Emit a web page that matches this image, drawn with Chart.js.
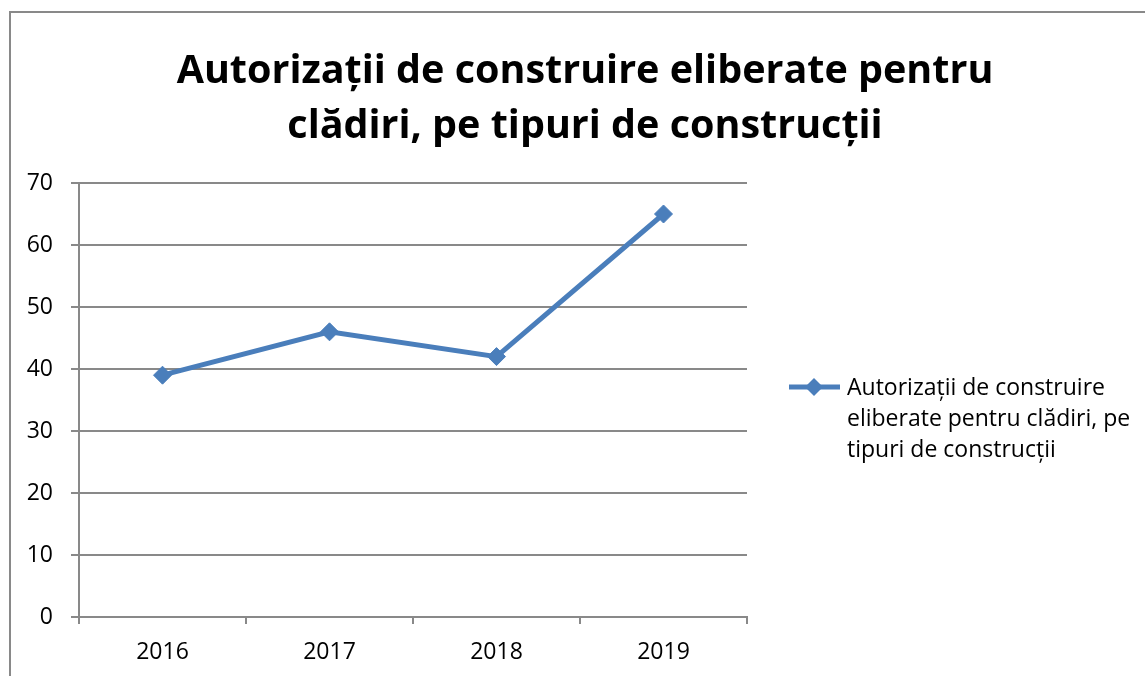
<!DOCTYPE html>
<html>
<head>
<meta charset="utf-8">
<script src="https://cdn.jsdelivr.net/npm/chart.js@4/dist/chart.umd.min.js"></script>
<style>
  html, body { margin: 0; padding: 0; background: #fff; overflow: hidden; }
  #frame { position: absolute; left: 9px; top: 11px; width: 1200px; height: 700px;
           border-left: 2px solid #898989; border-top: 2px solid #898989; }
  #mycanvas { position: absolute; left: 10px; top: 0; }
</style>
</head>
<body>
<div id="frame"></div>
<canvas id="mycanvas" width="1150" height="676"></canvas>
<script>
var years = ["2016", "2017", "2018", "2019"];
var autorizatii = [39, 46, 42, 65];
var titleLines = ["Autorizații de construire eliberate pentru", "clădiri, pe tipuri de construcții"];
var seriesLabel = "Autorizații de construire eliberate pentru clădiri, pe tipuri de construcții";

var lineColor = "#4a7ebb";
var gridColor = "#898989";
var fontFamily = "'Open Sans', 'Noto Sans', sans-serif";

// title should be centred on the whole canvas, not on the plot
var wideTitle = {
  id: "wideTitle",
  afterLayout: function(chart) {
    var t = chart.titleBlock;
    t.left = 0;
    t.right = chart.width;
    t.width = chart.width;
  }
};

// legend drawn by hand, so that the long label can wrap on three lines
var sideLegend = {
  id: "sideLegend",
  afterDraw: function(chart) {
    var ctx = chart.ctx;
    var ds = chart.data.datasets[0];
    var x0 = chart.chartArea.right + 42;
    var y0 = 387;
    var r = ds.pointRadius;
    ctx.save();
    ctx.strokeStyle = ds.borderColor;
    ctx.lineWidth = ds.borderWidth;
    ctx.beginPath();
    ctx.moveTo(x0, y0);
    ctx.lineTo(x0 + 51, y0);
    ctx.stroke();
    ctx.fillStyle = ds.pointBackgroundColor;
    ctx.beginPath();
    ctx.moveTo(x0 + 25 - r, y0);
    ctx.lineTo(x0 + 25, y0 - r);
    ctx.lineTo(x0 + 25 + r, y0);
    ctx.lineTo(x0 + 25, y0 + r);
    ctx.closePath();
    ctx.fill();

    ctx.font = "23px " + fontFamily;
    ctx.fillStyle = "#000";
    ctx.textBaseline = "middle";
    var words = ds.label.split(" ");
    var lines = [];
    var cur = "";
    for (var i in words) {
      var test = cur ? cur + " " + words[i] : words[i];
      if (ctx.measureText(test).width > 302 && cur) {
        lines.push(cur);
        cur = words[i];
      } else {
        cur = test;
      }
    }
    lines.push(cur);
    for (var j = 0; j < lines.length; j++) {
      ctx.fillText(lines[j], x0 + 58, y0 + 1 + j * 31);
    }
    ctx.restore();
  }
};

var ctx = document.getElementById("mycanvas");
var LineGraph = new Chart(ctx, {
  type: "line",
  data: {
    labels: years,
    datasets: [{
      label: seriesLabel,
      data: autorizatii,
      borderColor: lineColor,
      backgroundColor: lineColor,
      pointBackgroundColor: lineColor,
      pointBorderColor: lineColor,
      borderWidth: 5,
      pointStyle: "rectRot",
      pointRadius: 9,
      pointBorderWidth: 1,
      lineTension: 0,
      fill: false
    }]
  },
  options: {
    responsive: false,
    animation: false,
    devicePixelRatio: 1,
    layout: { padding: { left: 0, right: 413, top: 0, bottom: 0 } },
    plugins: {
      legend: { display: false },
      tooltip: { enabled: false },
      title: {
        display: true,
        text: titleLines,
        color: "#000",
        font: { family: fontFamily, size: 39.5, weight: "bold", lineHeight: 55 / 39.5 },
        padding: { top: 44, bottom: 29 }
      }
    },
    scales: {
      x: {
        offset: true,
        grid: { offset: true, drawOnChartArea: false, drawTicks: true, tickLength: 7, color: gridColor, lineWidth: 2 },
        border: { color: gridColor, width: 2 },
        ticks: { color: "#000", font: { family: fontFamily, size: 23 }, padding: 15, maxRotation: 0 },
        afterFit: function(scale) { scale.height = 59; }
      },
      y: {
        min: 0,
        max: 70,
        grid: { color: gridColor, lineWidth: 2, tickLength: 8 },
        border: { color: gridColor, width: 2 },
        ticks: { stepSize: 10, color: "#000", font: { family: fontFamily, size: 23 }, padding: 18 },
        afterFit: function(scale) { scale.width = 69; }
      }
    }
  },
  plugins: [wideTitle, sideLegend]
});
</script>
</body>
</html>
